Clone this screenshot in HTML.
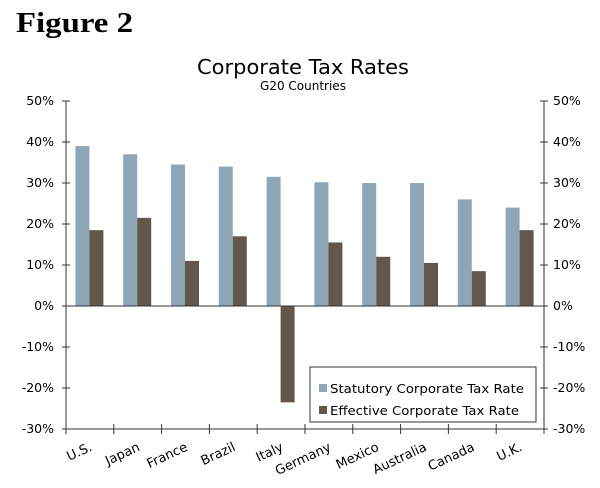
<!DOCTYPE html>
<html><head><meta charset="utf-8"><style>
body{margin:0;background:#fff;width:600px;height:483px;overflow:hidden}
svg{font-family:"DejaVu Sans","Liberation Sans",sans-serif}
</style></head><body>
<svg id="c" width="600" height="483">
<text x="16" y="32" font-family="Liberation Serif,serif" font-weight="bold" font-size="28" textLength="117" lengthAdjust="spacingAndGlyphs">Figure 2</text>
<text x="303" y="74" text-anchor="middle" font-size="20.5" textLength="212" lengthAdjust="spacingAndGlyphs">Corporate Tax Rates</text>
<text x="303" y="90" text-anchor="middle" font-size="12">G20 Countries</text>
</svg>
<script>
const categories=["U.S.","Japan","France","Brazil","Italy","Germany","Mexico","Australia","Canada","U.K."];
const statutory=[39,37,34.5,34,31.5,30.2,30,30,26,24];
const effective=[18.5,21.5,11,17,-23.5,15.5,12,10.5,8.5,18.5];
const ticks=[50,40,30,20,10,0,-10,-20,-30];
const NS="http://www.w3.org/2000/svg",svg=document.getElementById('c');
const L=66,R=544,T=101,B=429;
const y=v=>T+(50-v)*(B-T)/80;
const cw=(R-L)/categories.length;
function mk(t,a,p){const e=document.createElementNS(NS,t);for(const k in a)e.setAttribute(k,a[k]);(p||svg).appendChild(e);return e;}
categories.forEach((c,i)=>{
 const cx=L+cw*(i+.5);
 const s=mk('rect',{x:cx-14.5,y:y(statutory[i]),width:14,height:y(0)-y(statutory[i]),fill:'#8fa6b6'});
 
 
 const ev=effective[i];
 const e=mk('rect',{x:cx-0.5,y:Math.min(y(ev),y(0)),width:14,height:Math.abs(y(ev)-y(0)),fill:'#63574b'});
 
 
 const t=mk('text',{x:cx+3,y:B+21,'text-anchor':'end','font-size':13,transform:`rotate(-25 ${cx+3} ${B+21})`});
 t.textContent=c;
 
 
});
for(let i=0;i<=categories.length;i++){const x=L+cw*i;const tk=mk('line',{x1:x,x2:x,y1:B-5,y2:B+5,stroke:'#333','stroke-width':1});}
mk('line',{x1:L,x2:L,y1:T,y2:B,stroke:'#333'});
mk('line',{x1:R,x2:R,y1:T,y2:B,stroke:'#333'});
mk('line',{x1:L,x2:R,y1:B,y2:B,stroke:'#333'});
mk('line',{x1:L,x2:R,y1:y(0),y2:y(0),stroke:'#333'});
ticks.forEach(v=>{
 const yy=y(v);
 mk('line',{x1:L-4,x2:L+4,y1:yy,y2:yy,stroke:'#333'});
 mk('line',{x1:R-4,x2:R+4,y1:yy,y2:yy,stroke:'#333'});
 const a=mk('text',{x:L-12,y:yy+4,'text-anchor':'end','font-size':12.5});a.textContent=v+'%';
 
 
 const b=mk('text',{x:R+9,y:yy+4,'font-size':12.5});b.textContent=v+'%';
 
 
});
const lg=mk('g',{});


mk('rect',{x:310,y:367,width:226,height:55,fill:'#fff',stroke:'#333'},lg);
mk('rect',{x:319,y:384,width:8,height:8,fill:'#8fa6b6'},lg);
mk('rect',{x:319,y:406,width:8,height:8,fill:'#63574b'},lg);
const t1=mk('text',{x:330,y:393,'font-size':12.5,textLength:194,lengthAdjust:'spacingAndGlyphs'},lg);t1.textContent='Statutory Corporate Tax Rate';
const t2=mk('text',{x:330,y:415,'font-size':12.5,textLength:189,lengthAdjust:'spacingAndGlyphs'},lg);t2.textContent='Effective Corporate Tax Rate';
</script>
</body></html>
